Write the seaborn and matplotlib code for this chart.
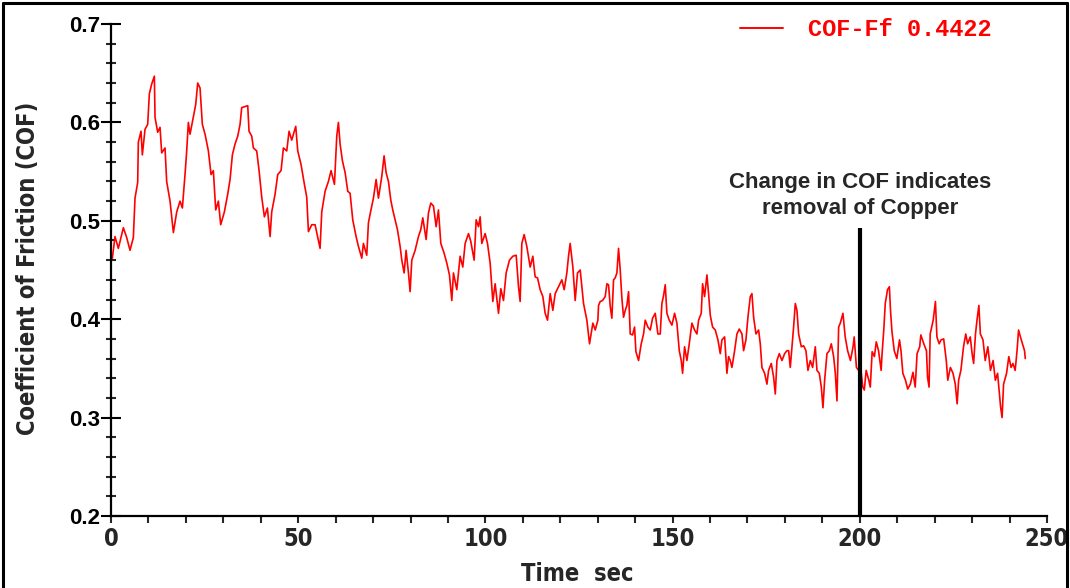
import numpy as np
import pandas as pd
import matplotlib
matplotlib.use("Agg")
import matplotlib.pyplot as plt
import seaborn as sns
from matplotlib import font_manager
from matplotlib.font_manager import FontProperties
from matplotlib.ticker import MultipleLocator
from matplotlib.lines import Line2D

# ---------------- data ----------------
time_s = [
    0.36, 1.07, 1.96, 3.30, 4.19, 5.08, 5.97, 6.41, 7.13, 7.30, 8.02, 8.37, 9.09, 9.80,
    10.24, 10.87, 11.58, 11.76, 12.47, 13.09, 13.54, 14.43, 14.87, 15.77, 16.66, 17.55,
    18.44, 19.06, 19.77, 20.22, 20.66, 21.11, 22.00, 22.62, 23.16, 23.78, 24.40, 25.12,
    26.01, 26.72, 27.34, 27.97, 28.68, 29.30, 30.28, 31.17, 31.80, 32.42, 33.13, 33.85,
    34.47, 34.91, 36.52, 36.87, 37.59, 38.03, 38.92, 39.55, 40.26, 40.97, 41.77, 42.49,
    42.93, 43.82, 44.53, 45.42, 46.05, 46.94, 47.56, 48.27, 49.34, 49.88, 50.77, 51.66,
    52.28, 52.73, 53.62, 54.51, 55.84, 56.29, 57.18, 58.07, 58.78, 59.68, 60.30, 60.74,
    61.19, 61.81, 62.53, 63.24,
    63.86, 64.57, 65.46, 66.09, 66.98, 67.42, 68.31, 68.76, 69.38, 70.09, 70.81, 71.43,
    72.32, 72.94, 73.48, 74.10, 74.73, 75.26, 75.88, 76.51, 77.22, 77.67, 78.29, 78.82,
    79.45, 79.89, 80.34, 81.23, 82.12, 82.74, 83.28, 84.17, 84.79, 85.41, 86.13, 86.84,
    87.46, 88.09, 88.98, 89.69, 90.40, 91.03, 91.47, 92.36, 93.25, 93.96, 94.59, 95.48,
    96.10, 96.99, 97.53, 98.15, 98.60, 99.04, 99.93, 100.56, 101.27, 101.98, 102.60,
    103.50, 104.12, 104.83, 105.54, 106.43, 107.33, 108.22, 108.84, 109.28, 109.73,
    110.35, 111.06, 111.96, 112.67, 113.29, 113.92, 114.63, 115.34, 115.96, 116.59,
    117.30, 118.01, 118.64, 119.53, 120.42, 121.04, 121.75, 122.20, 122.64, 123.36,
    123.98, 124.60, 125.32, 126.21, 127.10, 127.81, 128.70,
    129.33, 130.04, 130.22, 130.67, 131.29, 132.00, 132.45, 132.89, 133.34, 133.78,
    134.23, 134.67, 135.12, 135.56, 136.01, 136.46, 136.90, 137.35, 137.79, 138.24,
    138.68, 139.31, 139.84, 140.20, 140.91, 141.62, 142.24, 142.69, 143.40, 144.03,
    144.65, 145.36, 146.07, 146.70, 147.14, 147.59, 148.03, 148.48, 149.10, 149.82,
    150.53, 151.15, 151.78, 152.31, 152.67, 153.20, 153.82, 154.45, 155.16, 155.87,
    156.50, 156.94, 157.65, 158.01, 158.54, 159.17, 159.61, 160.06, 160.68, 161.40,
    162.11, 162.73, 163.18, 163.89, 164.51, 164.96, 165.40, 165.85, 166.56, 167.18,
    167.81, 168.52, 168.96, 169.59, 170.12, 170.75, 171.19, 171.64, 172.26, 172.97,
    173.42, 173.86, 174.58, 175.20, 175.64, 176.36, 176.98, 177.43, 177.87, 178.50,
    179.21, 179.92, 180.54, 180.99, 181.43, 181.88, 182.32, 182.77, 183.21, 183.66,
    184.37, 184.99, 185.62, 186.15, 186.78, 187.40, 188.11, 188.56, 189.18, 189.72,
    190.16, 190.61, 191.23, 191.86, 192.39, 193.01, 193.46, 193.90, 194.35,
    194.79, 195.5, 196.1, 196.75, 197.5, 198.2, 198.5, 199.1, 199.7, 200.2, 200.8,
    201.2, 201.7, 202.4, 202.8, 203.3, 203.9, 204.4, 205.0, 205.7, 205.9, 206.4, 206.8,
    207.4, 207.9, 208.2, 208.6, 209.2, 209.9, 210.6, 211.0, 211.5, 212.2, 212.8, 213.5,
    214.2, 214.8, 215.3, 216.0, 216.3, 217.1, 217.8, 218.1, 218.5, 218.8, 219.6, 220.2,
    220.6, 221.2, 221.7, 222.4, 223.1, 223.5, 224.2, 224.9, 225.5, 226.0, 226.4, 227.0,
    227.7, 228.3, 228.8, 229.5, 230.0, 230.4, 230.9, 231.3, 231.8, 232.2, 232.9, 233.5,
    234.2, 234.9, 235.6, 236.2, 236.8, 237.6, 238.0, 238.4, 239.2, 239.8, 240.4, 240.9,
    241.5, 242.0, 242.4, 242.9, 243.3, 244.0, 244.2,
]
cof = [
    0.462, 0.484, 0.472, 0.493, 0.483, 0.470, 0.483, 0.523, 0.539, 0.580, 0.591, 0.567,
    0.593, 0.598, 0.629, 0.639, 0.647, 0.605, 0.590, 0.595, 0.569, 0.574, 0.540, 0.520,
    0.488, 0.509, 0.520, 0.513, 0.547, 0.571, 0.600, 0.588, 0.606, 0.618, 0.640, 0.635,
    0.598, 0.588, 0.571, 0.547, 0.551, 0.511, 0.520, 0.496, 0.509, 0.527, 0.542, 0.567,
    0.578, 0.586, 0.598, 0.615, 0.617, 0.591, 0.586, 0.574, 0.571, 0.551, 0.524, 0.504,
    0.513, 0.484, 0.509, 0.527, 0.547, 0.551, 0.574, 0.571, 0.591, 0.582, 0.596, 0.571,
    0.557, 0.537, 0.524, 0.489, 0.496, 0.496, 0.472, 0.509, 0.530, 0.540, 0.551, 0.537,
    0.586, 0.600, 0.578, 0.561, 0.549, 0.530,
    0.528, 0.501, 0.484, 0.474, 0.462, 0.477, 0.465, 0.498, 0.510, 0.523, 0.542, 0.523,
    0.545, 0.566, 0.549, 0.540, 0.521, 0.511, 0.501, 0.491, 0.474, 0.460, 0.447, 0.470,
    0.447, 0.428, 0.460, 0.470, 0.484, 0.491, 0.503, 0.481, 0.508, 0.518, 0.515, 0.494,
    0.511, 0.477, 0.467, 0.457, 0.445, 0.419, 0.447, 0.430, 0.464, 0.453, 0.477, 0.487,
    0.479, 0.460, 0.501, 0.494, 0.504, 0.477, 0.487, 0.477, 0.457, 0.418, 0.436,
    0.406, 0.431, 0.419, 0.447, 0.460, 0.464, 0.465, 0.433, 0.418, 0.477,
    0.486, 0.474, 0.453, 0.464, 0.443, 0.442, 0.430, 0.423, 0.406, 0.399,
    0.426, 0.409, 0.426, 0.433, 0.440, 0.430, 0.447, 0.464, 0.477, 0.453,
    0.419, 0.447, 0.450, 0.416, 0.399, 0.375, 0.396,
    0.389, 0.399, 0.414, 0.418, 0.419, 0.423, 0.436, 0.435, 0.413, 0.401,
    0.440, 0.442, 0.447, 0.472, 0.450, 0.421, 0.402, 0.409, 0.414, 0.428,
    0.385, 0.384, 0.392, 0.367, 0.358, 0.375, 0.385, 0.399, 0.392, 0.389,
    0.401, 0.406, 0.385, 0.385, 0.416, 0.424, 0.435, 0.406, 0.399, 0.394,
    0.406, 0.396, 0.368, 0.358, 0.345, 0.372, 0.358, 0.375, 0.396, 0.389,
    0.385, 0.399, 0.406, 0.436, 0.423, 0.445, 0.426, 0.404, 0.392, 0.389,
    0.379, 0.365, 0.379, 0.382, 0.345, 0.362, 0.358, 0.351, 0.368, 0.385,
    0.390, 0.385, 0.368, 0.379, 0.402, 0.423, 0.426, 0.402, 0.385, 0.389,
    0.375, 0.351, 0.345, 0.334, 0.348, 0.355, 0.341, 0.324, 0.358, 0.365,
    0.358, 0.365, 0.368, 0.368, 0.351, 0.372, 0.392, 0.416, 0.409, 0.385,
    0.372, 0.373, 0.368, 0.348, 0.358, 0.351, 0.372, 0.348, 0.345, 0.331,
    0.310, 0.338, 0.365, 0.368, 0.375, 0.362, 0.345, 0.317, 0.392,
    0.396, 0.406, 0.382, 0.368, 0.358, 0.372, 0.382, 0.351, 0.348, 0.352, 0.331,
    0.328, 0.348, 0.338, 0.331, 0.367, 0.362, 0.377, 0.368, 0.348, 0.362, 0.389, 0.416,
    0.430, 0.433, 0.409, 0.387, 0.368, 0.360, 0.379, 0.368, 0.345, 0.338, 0.329, 0.334,
    0.346, 0.331, 0.365, 0.372, 0.384, 0.375, 0.368, 0.341, 0.331, 0.385, 0.399, 0.418,
    0.382, 0.375, 0.379, 0.380, 0.358, 0.338, 0.351, 0.345, 0.334, 0.314, 0.338, 0.348,
    0.372, 0.385, 0.375, 0.382, 0.365, 0.355, 0.385, 0.399, 0.414, 0.385, 0.379, 0.358,
    0.372, 0.348, 0.358, 0.338, 0.345, 0.311, 0.300, 0.334, 0.345, 0.362, 0.351, 0.355,
    0.348, 0.368, 0.389, 0.382, 0.377, 0.368, 0.360,
]
series_label = "COF-Ff 0.4422"
x_ticks = [0, 50, 100, 150, 200, 250]
y_ticks = [0.2, 0.3, 0.4, 0.5, 0.6, 0.7]
marker_time = 200
marker_top = 0.493
annotation_lines = ["Change in COF indicates", "removal of Copper"]
x_label = "Time  sec"
y_label = "Coefficient of Friction (COF)"

# ---------------- style ----------------
sns.set_style("white")
plt.rcParams["font.family"] = ["Liberation Sans", "DejaVu Sans"]


def find_narrow_bold():
    best = None
    for f in font_manager.fontManager.ttflist:
        st = f.stretch
        if isinstance(st, str):
            cond = st in ("condensed", "semi-condensed", "extra-condensed", "ultra-condensed")
        else:
            cond = st < 500
        cond = cond or ("Narrow" in f.name) or ("Condensed" in f.name)
        if not cond:
            continue
        w = f.weight if isinstance(f.weight, int) else (700 if "bold" in str(f.weight) else 400)
        if "italic" in f.style or "oblique" in f.style:
            continue
        score = abs(w - 700)
        if best is None or score < best[0]:
            best = (score, f.fname)
    if best is not None:
        return FontProperties(fname=best[1])
    return FontProperties(family="Liberation Sans", weight="bold")


narrow_fp = find_narrow_bold()

fig = plt.figure(figsize=(10.70, 5.88), dpi=100)
ax = fig.add_axes([111 / 1070, 1 - 516 / 588, (1047 - 111) / 1070, (516 - 24) / 588])

df = pd.DataFrame({"t": time_s, "cof": cof})
sns.lineplot(data=df, x="t", y="cof", ax=ax, color="#ff0000", linewidth=1.2,
             estimator=None, sort=False, label=series_label)

# marker line at t = 200
ax.plot([marker_time, marker_time], [0.2, marker_top], color="black", linewidth=3.0,
        solid_capstyle="butt", zorder=3)
ax.text(marker_time, 0.539, annotation_lines[0], ha="center", va="center",
        fontsize=16, fontweight="bold", family=["Liberation Sans", "DejaVu Sans"])
ax.text(marker_time, 0.512, annotation_lines[1], ha="center", va="center",
        fontsize=16, fontweight="bold", family=["Liberation Sans", "DejaVu Sans"])

ax.set_xlim(0, 250)
ax.set_ylim(0.2, 0.7)
ax.set_xticks(x_ticks)
ax.set_yticks(y_ticks)
ax.set_yticklabels([f"{v:.1f}" for v in y_ticks])
ax.set_xticklabels([str(v) for v in x_ticks])
ax.xaxis.set_minor_locator(MultipleLocator(10))
ax.yaxis.set_minor_locator(MultipleLocator(0.02))

for s in ["top", "right"]:
    ax.spines[s].set_visible(False)
for s in ["left", "bottom"]:
    ax.spines[s].set_linewidth(1.6)
    ax.spines[s].set_color("black")

ax.tick_params(axis="y", which="major", direction="inout", length=14, width=1.5,
               labelsize=16, pad=1, colors="black")
ax.tick_params(axis="y", which="minor", direction="inout", length=7, width=1.5)
ax.tick_params(axis="x", which="both", direction="out", length=5, width=1.5, pad=3)
ax.tick_params(left=True, bottom=True, which="both")
for lab in ax.get_yticklabels():
    lab.set_fontweight("bold")
for lab in ax.get_xticklabels():
    lab.set_fontproperties(narrow_fp)
    lab.set_fontsize(17)

ax.set_xlabel("")
ax.set_ylabel("")
t_x = fig.text(577 / 1070, 1 - 574 / 588, x_label, ha="center", va="center",
               fontproperties=narrow_fp)
t_x.set_fontsize(17)
t_y = fig.text(28 / 1070, 1 - 268 / 588, y_label, ha="center", va="center", rotation=90,
               fontproperties=narrow_fp)
t_y.set_fontsize(17)

leg = ax.legend(loc="center left", bbox_to_anchor=(740 / 1070, 1 - 30 / 588),
                bbox_transform=fig.transFigure, frameon=False, borderpad=0,
                borderaxespad=0, handlelength=1.8, handletextpad=1.1,
                prop={"family": ["Liberation Mono", "DejaVu Sans Mono"],
                      "weight": "bold", "size": 17})
for txt in leg.get_texts():
    txt.set_color("#ff0000")
for h in leg.legend_handles:
    h.set_linewidth(1.4)

# outer frame of the picture
fig.add_artist(Line2D([3 / 1070, 3 / 1070], [0, 1 - 3 / 588], transform=fig.transFigure,
                      color="black", linewidth=2.2))
fig.add_artist(Line2D([3 / 1070, 1067 / 1070], [1 - 3 / 588, 1 - 3 / 588],
                      transform=fig.transFigure, color="black", linewidth=2.2))
fig.add_artist(Line2D([1067 / 1070, 1067 / 1070], [0, 1 - 3 / 588],
                      transform=fig.transFigure, color="black", linewidth=2.2))

fig.savefig("out.png", dpi=100, facecolor="white")
